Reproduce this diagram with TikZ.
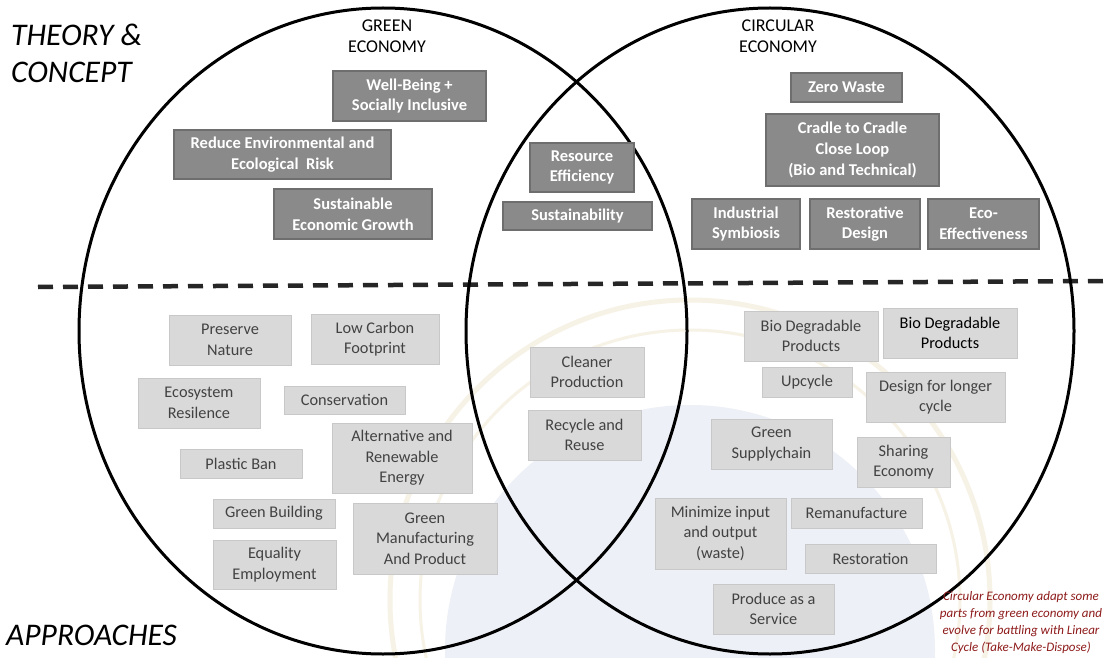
\documentclass[tikz,border=0pt]{standalone}
\usepackage{fontspec}
\setmainfont{Carlito}
\definecolor{BoxDark}{HTML}{8A8A8A}
\definecolor{BoxDarkLine}{HTML}{6E6E6E}
\definecolor{BoxLight}{HTML}{D9D9D9}
\definecolor{BoxLightLine}{HTML}{C8C8C8}
\definecolor{NoteRed}{HTML}{8E1B1B}
\definecolor{SealBlue}{HTML}{EDF0F6}
\definecolor{SealTan}{HTML}{F7F2E6}

\begin{document}
\begin{tikzpicture}[x=1pt,y=-1pt,
    ringstyle/.style={line width=3pt},
    darkbox/.style={fill=BoxDark,draw=BoxDarkLine,line width=1.2pt,text=white,inner sep=0pt,align=center,font=\fontsize{16.5}{20.6}\selectfont\bfseries},
    lightbox/.style={fill=BoxLight,draw=BoxLightLine,line width=1pt,text=black!74,inner sep=0pt,align=center,font=\fontsize{16.3}{20.6}\selectfont},
    headtext/.style={align=left,anchor=west,inner sep=0pt,font=\fontsize{31.5}{37}\selectfont\itshape},
    ecolabel/.style={align=center,inner sep=0pt,font=\fontsize{18}{21}\selectfont}]
    \fill[white] (0,0) rectangle (1104,658);
    \useasboundingbox (0,0) rectangle (1104,658);
    % faint seal behind the lower half
    \begin{scope}
      \clip (0,0) rectangle (1104,658);
      \draw[SealTan,line width=5pt] (690,600) circle[radius=300];
      \draw[SealTan,line width=3pt] (690,600) circle[radius=270];
      \fill[SealBlue] (690,650) circle[radius=245];
    \end{scope}
    \coordinate (divL) at (38,287);
    \coordinate (divR) at (1104,281);
    \draw[black!85,line width=4.5pt,dash pattern=on 15pt off 10pt] (divL) -- (divR);
    \draw[ringstyle] (383,331) ellipse[x radius=304,y radius=323];
    \draw[ringstyle] (770,331) ellipse[x radius=304,y radius=323];
    \node[headtext] (theory) at (11,53) {THEORY \&\\CONCEPT};
    \node[headtext] (approach) at (6,635) {APPROACHES};
    \node[ecolabel] (greenlbl) at (387,36) {GREEN\\ECONOMY};
    \node[ecolabel] (circlbl) at (778,36) {CIRCULAR\\ECONOMY};
    % theory and concept
    \node[darkbox,minimum width=153,minimum height=50] (wellbeing) at (409.5,96) {Well-Being +\\Socially Inclusive};
    \node[darkbox,minimum width=217,minimum height=49] (reducerisk) at (282.5,154.5) {Reduce Environmental and\\Ecological~ Risk};
    \node[darkbox,minimum width=158,minimum height=50] (susgrowth) at (353,214) {Sustainable\\Economic Growth};
    \node[darkbox,minimum width=104,minimum height=49] (resource) at (582,167.5) {Resource\\Efficiency};
    \node[darkbox,minimum width=149,minimum height=28] (sustain) at (577.5,216) {Sustainability};
    \node[darkbox,minimum width=111,minimum height=29] (zerowaste) at (846.5,87.5) {Zero Waste};
    \node[darkbox,minimum width=173,minimum height=72] (cradle) at (852.5,150) {Cradle to Cradle\\Close Loop\\(Bio and Technical)};
    \node[darkbox,minimum width=108,minimum height=50] (symbiosis) at (746,224) {Industrial\\Symbiosis};
    \node[darkbox,minimum width=110,minimum height=50] (restdesign) at (865,224) {Restorative\\Design};
    \node[darkbox,minimum width=111,minimum height=50] (ecoeff) at (983.5,224) {Eco-\\Effectiveness};
    % approaches
    \node[lightbox,minimum width=122,minimum height=50] (preserve) at (230,340) {Preserve\\Nature};
    \node[lightbox,minimum width=128,minimum height=50] (lowcarbon) at (375,339) {Low Carbon\\Footprint};
    \node[lightbox,minimum width=122,minimum height=50] (ecosystem) at (199,403) {Ecosystem\\Resilence};
    \node[lightbox,minimum width=121,minimum height=28] (conserve) at (344.5,400) {Conservation};
    \node[lightbox,minimum width=140,minimum height=70] (renewable) at (402,458) {Alternative and\\Renewable\\Energy};
    \node[lightbox,minimum width=122,minimum height=29] (plastic) at (241,463.5) {Plastic Ban};
    \node[lightbox,minimum width=122,minimum height=29] (building) at (274,513.5) {Green Building};
    \node[lightbox,minimum width=144,minimum height=71] (manufact) at (425,538.5) {Green\\Manufacturing\\And Product};
    \node[lightbox,minimum width=123,minimum height=49] (equality) at (274.5,564.5) {Equality\\Employment};
    \node[lightbox,minimum width=114,minimum height=50] (cleaner) at (587,372) {Cleaner\\Production};
    \node[lightbox,minimum width=113,minimum height=50] (recycle) at (584.5,435) {Recycle and\\Reuse};
    \node[lightbox,minimum width=134,minimum height=50] (biodegA) at (811,336) {Bio Degradable\\Products};
    \node[lightbox,minimum width=134,minimum height=50,text=black] (biodegB) at (950,333) {Bio Degradable\\Products};
    \node[lightbox,minimum width=90,minimum height=30] (upcycle) at (807,382) {Upcycle};
    \node[lightbox,minimum width=139,minimum height=50] (longcycle) at (935.5,397) {Design for longer\\cycle};
    \node[lightbox,minimum width=121,minimum height=50] (supply) at (771.5,444) {Green\\Supplychain};
    \node[lightbox,minimum width=93,minimum height=50] (sharing) at (903.5,462) {Sharing\\Economy};
    \node[lightbox,minimum width=131,minimum height=71] (minimize) at (720.5,533.5) {Minimize input\\and output\\(waste)};
    \node[lightbox,minimum width=131,minimum height=30] (reman) at (856.5,513) {Remanufacture};
    \node[lightbox,minimum width=131,minimum height=29] (restore) at (870.5,558.5) {Restoration};
    \node[lightbox,minimum width=121,minimum height=50] (service) at (773.5,609) {Produce as a\\Service};
    \node[align=center,inner sep=0pt,text=NoteRed,font=\fontsize{13}{17}\selectfont\itshape] (note) at (1021,623) {Circular Economy adapt some\\parts from green economy and\\evolve for battling with Linear\\Cycle (Take-Make-Dispose)};
  \end{tikzpicture}
\end{document}
